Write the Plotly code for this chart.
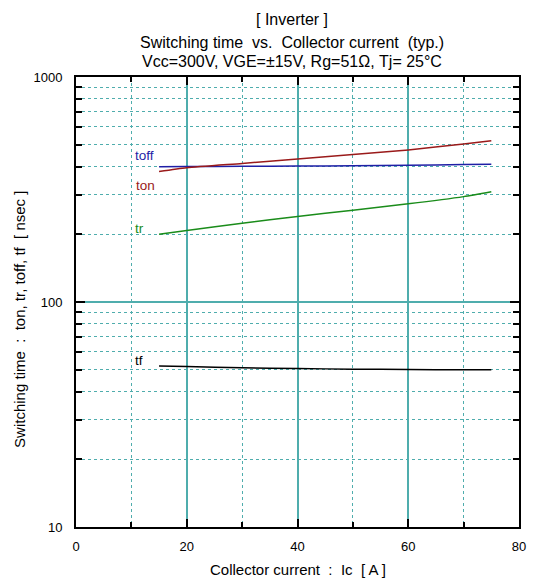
import math
import plotly.graph_objects as go

# ---- data ----
ic = [15, 20, 30, 40, 50, 60, 70, 75]
ton = [380, 395, 413, 432, 452, 474, 504, 521]
toff = [399, 400, 401, 402, 403, 405, 408, 409]
tr = [200, 208, 224, 240, 256, 273, 294, 309]
tf = [52, 51.7, 51, 50.6, 50.3, 50.1, 50, 50]

series_names = ["toff", "ton", "tr", "tf"]
series_colors = ["#1f1fa6", "#9a1a1a", "#1a8c1a", "#000000"]
label_x = [10.3, 10.5, 10.3, 10.3]
label_y = [450, 331, 213, 54.7]

x_major = [0, 20, 40, 60, 80]
x_minor = [10, 30, 50, 70]
y_major = [10, 100, 1000]
y_minor = [v * d for d in (10, 100) for v in range(2, 10)]

title_lines = ["[ Inverter ]",
               "Switching time\u00a0 vs.\u00a0 Collector current\u00a0 (typ.)",
               "Vcc=300V, VGE=\u00b115V, Rg=51\u03a9, Tj= 25\u00b0C"]
x_title = "Collector current\u00a0 :\u00a0 Ic\u00a0 [ A ]"
y_title = "Switching time\u00a0 :\u00a0 ton, tr, toff, tf\u00a0 [ nsec ]"

FONT = "Arial, Liberation Sans, sans-serif"
TEAL = "#4fadad"

# page has an 8px body margin: work in figure coords = reference px - 8
OFF = 8
W, H = 527, 571
L, T = 76 - OFF, 77 - OFF
pw, ph = 450, 450
R, B = W - L - pw, H - T - ph


def px_x(p):
    return (p - OFF - L) / pw


def px_y(p):
    return 1 - (p - OFF - T) / ph


fig = go.Figure()
data = [toff, ton, tr, tf]
for name, ys, col in zip(series_names, data, series_colors):
    fig.add_trace(go.Scatter(x=ic, y=ys, mode="lines", name=name,
                             line=dict(color=col, width=1.5, shape="spline", smoothing=0.6),
                             showlegend=False))

for name, col, lx, ly in zip(series_names, series_colors, label_x, label_y):
    fig.add_annotation(x=lx, y=math.log10(ly), xref="x", yref="y", text=name,
                       showarrow=False, xanchor="left", yanchor="middle",
                       font=dict(family=FONT, size=13.5, color=col))

# titles
for line, ypx in zip(title_lines, [20, 42, 62]):
    fig.add_annotation(x=px_x(295), y=px_y(ypx), xref="paper", yref="paper",
                       text=line, showarrow=False, xanchor="center", yanchor="middle",
                       font=dict(family=FONT, size=16, color="black"))

fig.add_annotation(x=px_x(301), y=px_y(569), xref="paper", yref="paper",
                   text=x_title, showarrow=False, xanchor="center", yanchor="middle",
                   font=dict(family=FONT, size=15, color="black"))
fig.add_annotation(x=px_x(18), y=px_y(319), xref="paper", yref="paper",
                   text=y_title, showarrow=False, textangle=-90,
                   xanchor="center", yanchor="middle",
                   font=dict(family=FONT, size=15, color="black"))

fig.update_xaxes(range=[0, 80], tickvals=x_major, ticktext=[str(v) for v in x_major],
                 showgrid=True, gridcolor=TEAL, gridwidth=1.5,
                 ticks="inside", ticklen=8, tickcolor="black", tickwidth=1.5,
                 showline=True, linecolor="black", linewidth=2, mirror="ticks",
                 zeroline=False, ticklabelstandoff=6,
                 tickfont=dict(family=FONT, size=13, color="black"),
                 minor=dict(tickvals=x_minor, ticks="inside", ticklen=5,
                            tickcolor="black", tickwidth=1.5,
                            showgrid=True, gridcolor=TEAL, gridwidth=1, griddash="dot"))
fig.update_yaxes(type="log", range=[1, 3], tickvals=y_major,
                 ticktext=[str(v) for v in y_major],
                 showgrid=True, gridcolor=TEAL, gridwidth=1.5,
                 ticks="inside", ticklen=9, tickcolor="black", tickwidth=1.5,
                 showline=True, linecolor="black", linewidth=2, mirror="ticks",
                 zeroline=False, ticklabelstandoff=9,
                 tickfont=dict(family=FONT, size=13, color="black"),
                 minor=dict(tickvals=y_minor, ticks="inside", ticklen=6,
                            tickcolor="black", tickwidth=1.5,
                            showgrid=True, gridcolor=TEAL, gridwidth=1, griddash="dot"))

fig.update_layout(width=W, height=H, margin=dict(l=L, r=R, t=T, b=B),
                  paper_bgcolor="white", plot_bgcolor="white",
                  font=dict(family=FONT, color="black"))

fig.write_html("out.html")
